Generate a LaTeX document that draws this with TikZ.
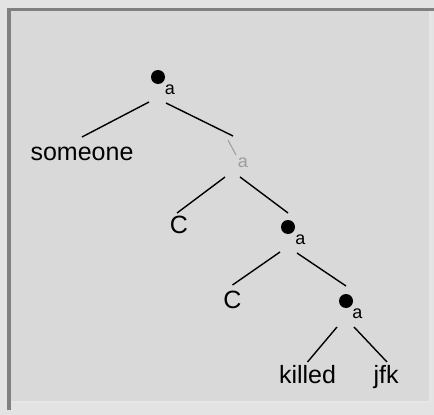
\documentclass[tikz,border=0pt]{standalone}
\usepackage{fontspec}
\setmainfont{Liberation Sans}
\usetikzlibrary{calc}
\definecolor{outerbg}{HTML}{E3E3E3}
\definecolor{innerbg}{HTML}{D9D9D9}
\definecolor{frameline}{HTML}{808080}
\definecolor{bevel}{HTML}{E6E6E6}
\definecolor{ghost}{HTML}{9C9C9C}
\tikzset{
  dotnode/.style={circle,fill=black,inner sep=0pt,minimum size=14pt},
  lab/.style={inner sep=0pt,font=\fontsize{18}{20}\selectfont},
  word/.style={inner sep=0pt,anchor=base,font=\fontsize{25}{30}\selectfont},
  edge/.style={line width=1.4pt,black},
  ghostedge/.style={line width=1pt,ghost}
}
\begin{document}
\begin{tikzpicture}[x=1pt,y=-1pt]
\useasboundingbox (0,0) rectangle (434,415);
\fill[outerbg] (0,0) rectangle (434,415);
\fill[innerbg] (8,8) rectangle (431,403);
\draw[bevel,line width=1.5pt] (430,9) -- (430,402) -- (9,402);
\fill[frameline] (7,8) rectangle (11,410);
\fill[frameline] (7,8) rectangle (434,11);
% nodes
\node[dotnode] (n1) at (158,77) {};
\node[lab] (a1) at (170,90) {a};
\node[word] (someone) at (82,160) {someone};
\node[lab,text=ghost] (n2) at (243,163) {a};
\node[word] (c1) at (179,233) {C};
\node[dotnode] (n3) at (288,227) {};
\node[lab] (a3) at (300.5,240) {a};
\node[word] (c2) at (232.5,308) {C};
\node[dotnode] (n4) at (346,301) {};
\node[lab] (a4) at (357.5,314) {a};
\node[word] (killed) at (307.5,383) {killed};
\node[word] (jfk) at (386,383) {jfk};
% connectors
\draw[edge] ($(n1)+(-9,25)$) -- ($(someone.base)+(0,-23)$);
\draw[edge] ($(n1)+(8,26)$) -- ($(n2)+(-10,-27)$);
\draw[ghostedge] ($(n2)+(-15,-23)$) -- ($(n2)+(-7,-8)$);
\draw[edge] ($(n2)+(-18,14)$) -- ($(c1.base)+(-2,-20)$);
\draw[edge] ($(n2)+(-3,14)$) -- ($(n3)+(0,-14)$);
\draw[edge] ($(n3)+(-8,25)$) -- ($(c2.base)+(0,-23)$);
\draw[edge] ($(n3)+(9,26)$) -- ($(n4)+(0,-15)$);
\draw[edge] ($(n4)+(-9,26)$) -- ($(killed.base)+(0,-21)$);
\draw[edge] ($(n4)+(8,26)$) -- ($(jfk.base)+(1,-21)$);
\end{tikzpicture}
\end{document}
